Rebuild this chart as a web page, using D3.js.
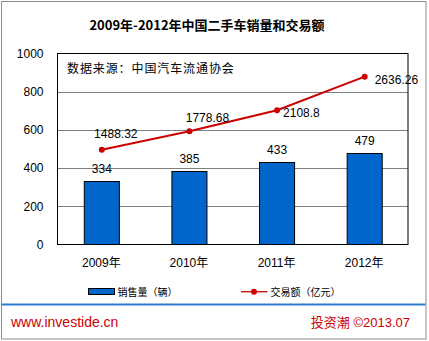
<!DOCTYPE html>
<html><head><meta charset="utf-8">
<script src="https://cdn.jsdelivr.net/npm/d3@7"></script>
<style>
html,body{margin:0;padding:0;background:#fff;}
svg{display:block;}
text{font-family:"Liberation Sans",Arial,"Noto Sans CJK SC",sans-serif;}
</style></head>
<body><svg id="c" width="429" height="341"></svg>
<script>
const title = "2009年-2012年中国二手车销量和交易额";
const categories = ["2009年", "2010年", "2011年", "2012年"];
const salesVolume = [334, 385, 433, 479];        // 销售量（辆）
const tradeValue = [1488.32, 1778.68, 2108.8, 2636.26]; // 交易额（亿元）
const tradeLabels = ["1488.32", "1778.68", "2108.8", "2636.26"];
const yTicks = [0, 200, 400, 600, 800, 1000];
const seriesNames = ["销售量（辆）", "交易额（亿元）"];
const sourceNote = "数据来源：中国汽车流通协会";
const footerLeft = "www.investide.cn";
const footerRight = "投资潮 ©2013.07";

// label placement for line values (layout, not data)
const lineLabelLayout = [
  {anchor: "middle", dx: 14, dy: -16},
  {anchor: "middle", dx: 18, dy: -13},
  {anchor: "start", dx: 6, dy: 3},
  {anchor: "start", dx: 10, dy: 3}
];

const svg = d3.select("#c");
const cjk = '"Noto Sans CJK SC","Liberation Sans",sans-serif';

// outer border
svg.append("rect").attr("x", 1.5).attr("y", 1.5).attr("width", 424.5).attr("height", 337.5)
  .attr("fill", "#fff").attr("stroke", "#8c8c8c").attr("stroke-width", 1);

// title
svg.append("text").attr("x", 207).attr("y", 30).attr("text-anchor", "middle")
  .style("font-family", cjk).style("font-weight", "bold").style("font-size", "13px")
  .text(title);

const pL = 57.5, pR = 408, pT = 53.5, pB = 244.5;
const x = d3.scaleBand().domain(categories).range([pL, pR]).paddingInner(0.6).paddingOuter(0.3);
const y = d3.scaleLinear().domain([0, 1000]).range([pB, pT]);
const y2 = d3.scaleLinear().domain([0, 3000]).range([pB, pT]);

// gridlines
svg.append("g").selectAll("line").data(yTicks.filter(d => d > 0 && d < 1000)).join("line")
  .attr("x1", pL).attr("x2", pR)
  .attr("y1", d => Math.round(y(d)) + 0.5).attr("y2", d => Math.round(y(d)) + 0.5)
  .attr("stroke", "#808080").attr("stroke-width", 1);

// y axis labels
const yAxis = d3.axisLeft(y).tickValues(yTicks).tickSize(0).tickPadding(14).tickFormat(d3.format("d"));
const ga = svg.append("g").attr("transform", `translate(${pL},0)`).call(yAxis);
ga.select(".domain").remove();
ga.selectAll("text").style("font-size", "12px").attr("fill", "#000");

// x axis labels
const xAxis = d3.axisBottom(x).tickSize(0).tickPadding(14);
const gx = svg.append("g").attr("transform", `translate(0,${pB})`).call(xAxis);
gx.select(".domain").remove();
gx.selectAll("text").style("font-size", "12px").attr("fill", "#000")
  .style("font-family", '"Liberation Sans","Noto Sans CJK SC",sans-serif');

// bars
svg.append("g").selectAll("rect").data(salesVolume).join("rect")
  .attr("x", (d, i) => x(categories[i]) + 0.5)
  .attr("y", d => Math.round(y(d)) + 0.5)
  .attr("width", x.bandwidth())
  .attr("height", d => pB - Math.round(y(d)) - 0.5)
  .attr("fill", "#0066CC").attr("stroke", "#000").attr("stroke-width", 1);

svg.append("g").selectAll("text").data(salesVolume).join("text")
  .attr("x", (d, i) => x(categories[i]) + x.bandwidth() / 2 + 0.5)
  .attr("y", d => y(d) - 8)
  .attr("text-anchor", "middle").style("font-size", "12px").text(d => d);

// plot frame
svg.append("rect").attr("x", pL).attr("y", pT).attr("width", pR - pL).attr("height", pB - pT)
  .attr("fill", "none").attr("stroke", "#000").attr("stroke-width", 1);

// line
const cx = (i) => x(categories[i]) + x.bandwidth() / 2 + 0.5;
const line = d3.line().x((d, i) => cx(i)).y(d => y2(d));
svg.append("path").datum(tradeValue).attr("d", line)
  .attr("fill", "none").attr("stroke", "#CC0000").attr("stroke-width", 2);
svg.append("g").selectAll("circle").data(tradeValue).join("circle")
  .attr("cx", (d, i) => cx(i)).attr("cy", d => y2(d)).attr("r", 3)
  .attr("fill", "#CC0000");
svg.append("g").selectAll("text").data(tradeValue).join("text")
  .attr("x", (d, i) => cx(i) + lineLabelLayout[i].dx)
  .attr("y", (d, i) => y2(d) + lineLabelLayout[i].dy)
  .attr("dy", "0.35em")
  .attr("text-anchor", (d, i) => lineLabelLayout[i].anchor)
  .style("font-size", "12px").text((d, i) => tradeLabels[i]);

// source note
svg.append("text").attr("x", 67).attr("y", 73)
  .style("font-family", cjk).style("font-size", "12px").style("letter-spacing", "0.9px")
  .text(sourceNote);

// legend
const lg = svg.append("g");
lg.append("rect").attr("x", 88.5).attr("y", 288.5).attr("width", 26).attr("height", 6)
  .attr("fill", "#0066CC").attr("stroke", "#000").attr("stroke-width", 1);
lg.append("text").attr("x", 117.5).attr("y", 292).attr("dy", "0.35em")
  .style("font-family", cjk).style("font-size", "10px").text(seriesNames[0]);
lg.append("line").attr("x1", 241).attr("x2", 267.5).attr("y1", 291.7).attr("y2", 291.7)
  .attr("stroke", "#CC0000").attr("stroke-width", 1.3);
lg.append("circle").attr("cx", 254).attr("cy", 291.7).attr("r", 3).attr("fill", "#CC0000");
lg.append("text").attr("x", 270.5).attr("y", 292).attr("dy", "0.35em")
  .style("font-family", cjk).style("font-size", "10px").text(seriesNames[1]);

// separator
svg.append("line").attr("x1", 2).attr("x2", 425.5).attr("y1", 304.5).attr("y2", 304.5)
  .attr("stroke", "#2E7BD1").attr("stroke-width", 2);

// footer
svg.append("text").attr("x", 11).attr("y", 326.5)
  .style("font-size", "14px").attr("fill", "#CC0000").text(footerLeft);
svg.append("text").attr("x", 410).attr("y", 326.5).attr("text-anchor", "end")
  .style("font-family", '"Liberation Sans","Noto Sans CJK SC",sans-serif')
  .style("font-size", "13px").attr("fill", "#CC0000").text(footerRight);
</script></body></html>
